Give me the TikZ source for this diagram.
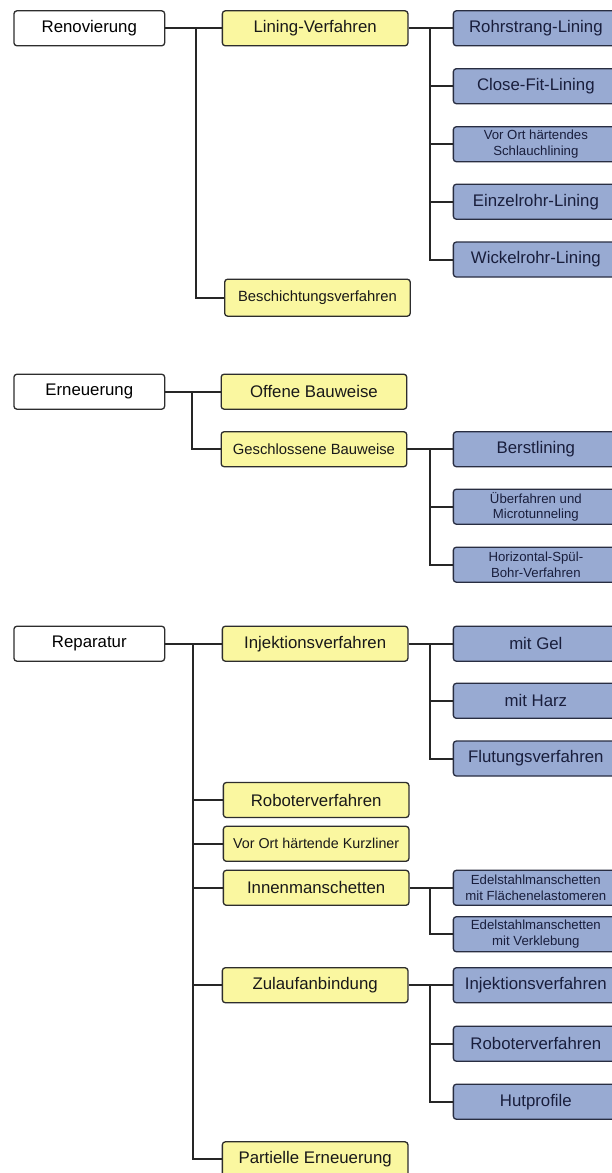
\documentclass[tikz,border=0pt]{standalone}
\usepackage{fontspec}
\setmainfont{Liberation Sans}
\definecolor{ylw}{RGB}{250,247,160}
\definecolor{blu}{RGB}{152,170,210}
\definecolor{bdr}{RGB}{45,45,45}
\definecolor{bbdr}{RGB}{40,45,65}
\definecolor{btxt}{RGB}{25,30,60}
\tikzset{
  base/.style={draw=bdr, line width=1.3pt, rounded corners=3pt, inner sep=0pt,
    align=center, anchor=west, minimum height=35pt, font=\fontsize{16.8}{19}\selectfont},
  wbox/.style={base, fill=white, minimum width=150.7pt},
  ybox/.style={base, fill=ylw, minimum width=185.6pt, text=black!90},
  bbox/.style={base, draw=bbdr, fill=blu, minimum width=165pt, text=btxt},
  small/.style={font=\fontsize{13.2}{15.5}\selectfont},
  mid/.style={font=\fontsize{14.8}{17}\selectfont},
  link/.style={line width=2pt, draw=black!85},
}
\begin{document}
\begin{tikzpicture}[x=1pt,y=-1pt]
\fill[white] (0,0) rectangle (612,1173);
\useasboundingbox (0,0) rectangle (612,1173);
\coordinate (ja) at (196,0);
\coordinate (jc) at (192.3,0);
\coordinate (jr) at (193.3,0);
\coordinate (jb) at (430,0);
% Renovierung
\node[wbox] (ren) at (13.3,28.3) {Renovierung};
\node[ybox] (lin) at (221.7,28.3) {Lining-Verfahren};
\node[bbox] (rohr) at (452.7,28.3) {Rohrstrang-Lining};
\node[bbox] (close) at (452.7,86.2) {Close-Fit-Lining};
\node[bbox,small] (vorort) at (452.7,144.2) {Vor Ort härtendes\\Schlauchlining};
\node[bbox] (einzel) at (452.7,201.7) {Einzelrohr-Lining};
\node[bbox] (wickel) at (452.7,259.5) {Wickelrohr-Lining};
\node[ybox,mid,minimum height=37pt] (besch) at (224,297.7) {Beschichtungsverfahren};
\draw[link] (ren.east) -- (lin.west);
\draw[link] (ren.east -| ja) |- (besch.west);
\draw[link] (lin.east) -- (rohr.west);
\foreach \n in {close,vorort,einzel,wickel} \draw[link] (lin.east -| jb) |- (\n.west);
% Erneuerung
\node[wbox] (ern) at (13.3,391.7) {Erneuerung};
\node[ybox] (off) at (220.5,391.7) {Offene Bauweise};
\node[ybox,mid] (ges) at (220.5,449.2) {Geschlossene Bauweise};
\node[bbox] (berst) at (452.7,449.2) {Berstlining};
\node[bbox,small] (ueber) at (452.7,506.7) {Überfahren und\\Microtunneling};
\node[bbox,small] (hor) at (452.7,564.7) {Horizontal-Spül-\\Bohr-Verfahren};
\draw[link] (ern.east) -- (off.west);
\draw[link] (ern.east -| jc) |- (ges.west);
\draw[link] (ges.east) -- (berst.west);
\foreach \n in {ueber,hor} \draw[link] (ges.east -| jb) |- (\n.west);
% Reparatur
\node[wbox] (rep) at (13.3,643.7) {Reparatur};
\node[ybox] (inj) at (221.7,643.7) {Injektionsverfahren};
\node[bbox] (gel) at (452.7,643.7) {mit Gel};
\node[bbox] (harz) at (452.7,700.8) {mit Harz};
\node[bbox] (flut) at (452.7,758.5) {Flutungsverfahren};
\node[ybox] (robo) at (222.7,800) {Roboterverfahren};
\node[ybox,font=\fontsize{14.3}{17}\selectfont] (kurz) at (222.7,843.8) {Vor Ort härtende Kurzliner};
\node[ybox] (innen) at (222.7,887.8) {Innenmanschetten};
\node[bbox,small] (edel1) at (452.7,887.8) {Edelstahlmanschetten\\mit Flächenelastomeren};
\node[bbox,small] (edel2) at (452.7,934.2) {Edelstahlmanschetten\\mit Verklebung};
\node[ybox] (zul) at (221.7,985.2) {Zulaufanbindung};
\node[bbox] (inj2) at (452.7,985.2) {Injektionsverfahren};
\node[bbox] (robo2) at (452.7,1043.7) {Roboterverfahren};
\node[bbox] (hut) at (452.7,1101.7) {Hutprofile};
\node[ybox] (part) at (221.7,1159.3) {Partielle Erneuerung};
\draw[link] (rep.east) -- (inj.west);
\foreach \n in {robo,kurz,innen,zul,part} \draw[link] (rep.east -| jr) |- (\n.west);
\draw[link] (inj.east) -- (gel.west);
\foreach \n in {harz,flut} \draw[link] (inj.east -| jb) |- (\n.west);
\draw[link] (innen.east) -- (edel1.west);
\draw[link] (innen.east -| jb) |- (edel2.west);
\draw[link] (zul.east) -- (inj2.west);
\foreach \n in {robo2,hut} \draw[link] (zul.east -| jb) |- (\n.west);
\end{tikzpicture}
\end{document}
